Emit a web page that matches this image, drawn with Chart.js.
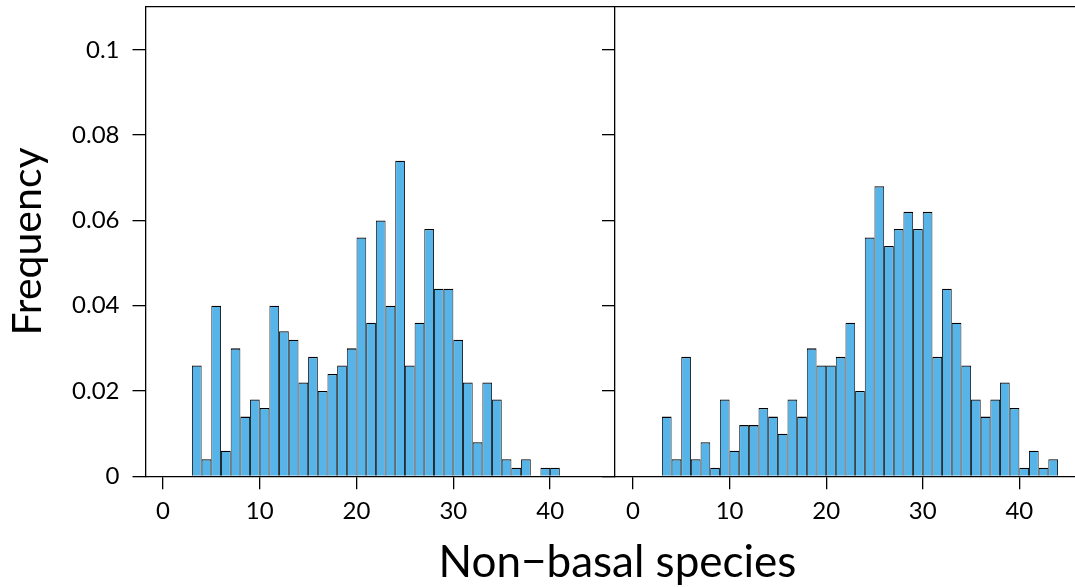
<!DOCTYPE html>
<html>
<head>
<meta charset="utf-8">
<script src="https://cdn.jsdelivr.net/npm/chart.js@4.4.1/dist/chart.umd.min.js"></script>
<style>
  html, body { margin: 0; padding: 0; background: #fff; overflow: hidden; }
  body { position: relative; width: 1075px; height: 587px; font-family: Lato, 'Open Sans', sans-serif; }
  canvas { position: absolute; top: 0; }
  #left { left: 0; }
  #right { left: 602px; }
  #xtitle {
    position: absolute; left: 317px; width: 601px; top: 534px;
    text-align: center; font-size: 44px; line-height: 1.2; color: #000; white-space: nowrap;
  }
</style>
</head>
<body>
<canvas id="left" width="615" height="587"></canvas>
<canvas id="right" width="473" height="587"></canvas>
<div id="xtitle"></div>
<script>
// histogram bins (left edge of each 1-wide bin) and relative frequencies
const bins1 = [3, 4, 5, 6, 7, 8, 9, 10, 11, 12, 13, 14, 15, 16, 17, 18, 19, 20, 21, 22,
  23, 24, 25, 26, 27, 28, 29, 30, 31, 32, 33, 34, 35, 36, 37, 38, 39, 40];
const freq1 = [0.026, 0.004, 0.040, 0.006, 0.030, 0.014, 0.018, 0.016, 0.040, 0.034,
  0.032, 0.022, 0.028, 0.020, 0.024, 0.026, 0.030, 0.056, 0.036, 0.060,
  0.040, 0.074, 0.026, 0.036, 0.058, 0.044, 0.044, 0.032, 0.022, 0.008,
  0.022, 0.018, 0.004, 0.002, 0.004, 0, 0.002, 0.002];

const bins2 = [3, 4, 5, 6, 7, 8, 9, 10, 11, 12, 13, 14, 15, 16, 17, 18, 19, 20, 21, 22,
  23, 24, 25, 26, 27, 28, 29, 30, 31, 32, 33, 34, 35, 36, 37, 38, 39, 40, 41, 42, 43];
const freq2 = [0.014, 0.004, 0.028, 0.004, 0.008, 0.002, 0.018, 0.006, 0.012, 0.012,
  0.016, 0.014, 0.010, 0.018, 0.014, 0.030, 0.026, 0.026, 0.028, 0.036,
  0.020, 0.056, 0.068, 0.054, 0.058, 0.062, 0.058, 0.062, 0.028, 0.044,
  0.036, 0.026, 0.018, 0.014, 0.018, 0.022, 0.016, 0.002, 0.006, 0.002, 0.004];

const xTicks = [0, 10, 20, 30, 40];
const yTicks = [0, 0.02, 0.04, 0.06, 0.08, 0.1];
const yTickLabels = ['0', '0.02', '0.04', '0.06', '0.08', '0.1'];
const yTitle = 'Frequency';
const xTitle = 'Non\u2212basal species';

const INK = '#000';
const BAR = '#56B4E9';
const LINE = 1.3;

Chart.defaults.font.family = "Lato, 'Open Sans', sans-serif";
Chart.defaults.color = INK;

document.getElementById('xtitle').textContent = xTitle;

function noPadding(scale) {
  scale.paddingTop = 0;
  scale.paddingBottom = 0;
  scale.paddingLeft = 0;
  scale.paddingRight = 0;
}

function histogram(id, bins, freq, o) {
  const points = bins
    .map((b, i) => ({ x: b + 0.5, y: freq[i] }))
    .filter((p) => p.y > 0);

  return new Chart(document.getElementById(id), {
    type: 'bar',
    data: {
      datasets: [{
        data: points,
        backgroundColor: BAR,
        borderColor: INK,
        borderWidth: { top: 1.3, left: 0.9, right: 0.9, bottom: 0 },
        barPercentage: 1,
        categoryPercentage: 1,
        inflateAmount: 0
      }]
    },
    options: {
      responsive: false,
      animation: false,
      events: [],
      layout: { padding: { top: 6.7, right: 0, bottom: 0, left: 0 } },
      plugins: { legend: { display: false }, tooltip: { enabled: false } },
      scales: {
        x: {
          type: 'linear',
          position: 'bottom',
          offset: false,
          min: o.xMin,
          max: o.xMax,
          afterBuildTicks(scale) { scale.ticks = xTicks.map((v) => ({ value: v })); },
          afterFit(scale) { scale.height = 110.7; noPadding(scale); },
          grid: { offset: false, drawOnChartArea: false, drawTicks: true, tickLength: 13, color: INK, lineWidth: LINE },
          border: { display: true, color: INK, width: LINE },
          ticks: { padding: 8, autoSkip: false, maxRotation: 0, color: INK, font: { size: 24 } }
        },
        top: {
          type: 'linear',
          position: 'top',
          offset: false,
          min: o.xMin,
          max: o.xMax,
          afterFit(scale) { scale.height = 0; noPadding(scale); },
          grid: { offset: false, drawOnChartArea: false, drawTicks: false },
          border: { display: true, color: INK, width: LINE },
          ticks: { display: false }
        },
        y: {
          type: 'linear',
          position: 'left',
          min: 0,
          max: 0.1101,
          afterBuildTicks(scale) { scale.ticks = yTicks.map((v) => ({ value: v })); },
          afterFit(scale) { scale.width = o.yWidth; noPadding(scale); },
          grid: { drawOnChartArea: false, drawTicks: true, tickLength: 13, color: INK, lineWidth: LINE },
          border: { display: true, color: INK, width: LINE },
          ticks: {
            display: o.labels,
            padding: 13,
            color: INK,
            font: { size: 24 },
            callback(value, index) { return yTickLabels[index]; }
          },
          title: {
            display: o.labels,
            text: yTitle,
            color: INK,
            font: { size: 41 },
            padding: { top: 3, bottom: 0 }
          }
        }
      }
    }
  });
}

histogram('left', bins1, freq1, { xMin: -1.8, xMax: 46.7, yWidth: 145.5, labels: true });
histogram('right', bins2, freq2, { xMin: -1.86, xMax: 45.76, yWidth: 13, labels: false });
</script>
</body>
</html>
